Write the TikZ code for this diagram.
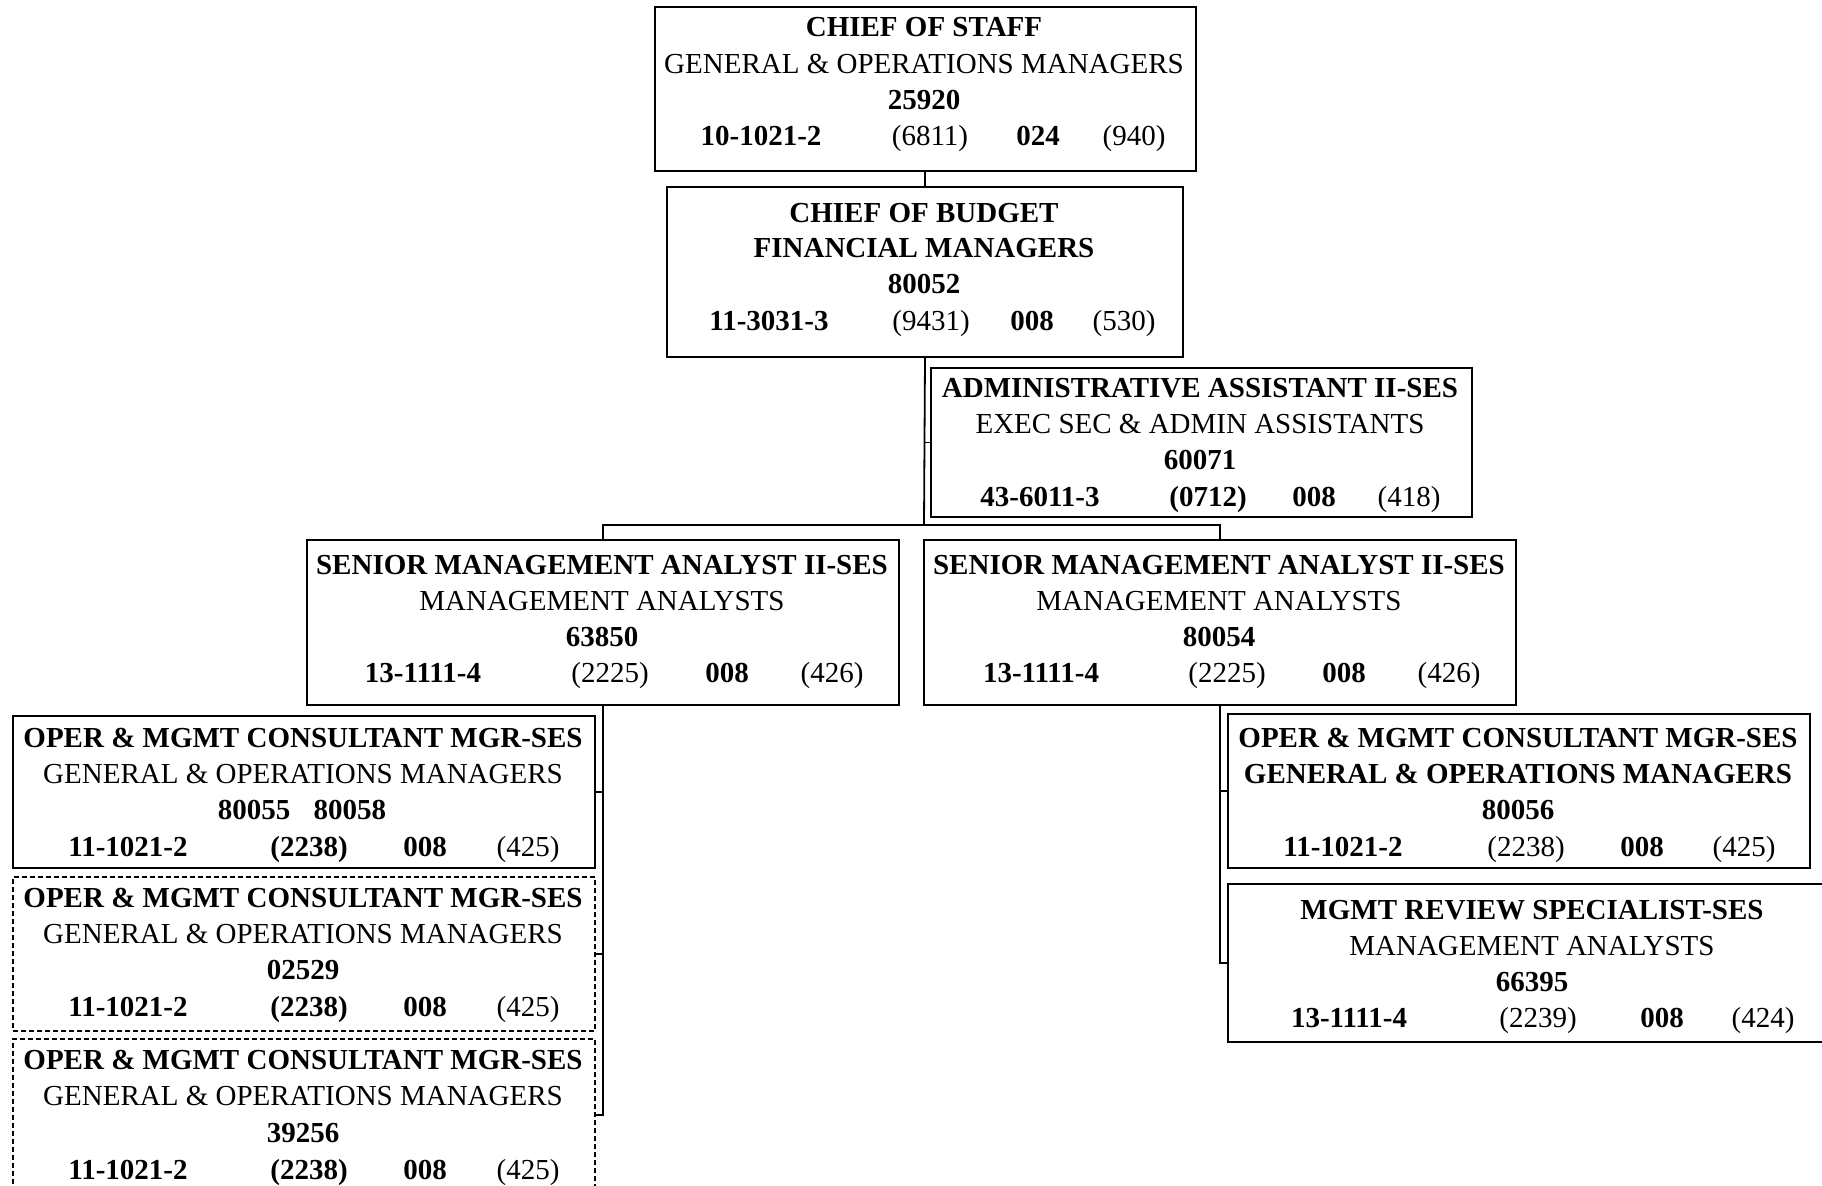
\documentclass[tikz,border=0pt]{standalone}
\usepackage{fontspec}
\setmainfont{Liberation Serif}
\begin{document}
\begin{tikzpicture}[x=0.5pt,y=-0.5pt,
  orgbox/.style={draw=black, line width=1pt, inner sep=0pt, fill=white},
  vacant/.style={draw=black, line width=0.8pt, dash pattern=on 2.5pt off 1.5pt, inner sep=0pt, fill=white},
  link/.style={draw=black, line width=0.9pt},
  lbl/.style={anchor=base, inner sep=0pt, font=\fontsize{14.5}{18}\selectfont}]

% page area
\useasboundingbox (0,0) rectangle (1822,1186);
\fill[white] (0,0) rectangle (1822,1186);

% box: name, left, top, right, bottom, style
\newcommand{\posbox}[6]{%
  \node[#6, anchor=north west, minimum width={(#4-#2)*0.5pt}, minimum height={(#5-#3)*0.5pt}] (#1) at (#2,#3) {};}
% label: name, x, baseline y, text
\newcommand{\lbl}[4]{\node[lbl] (#1) at (#2,#3) {#4};}

% ---------- positions ----------
\posbox{cos}{654}{6}{1195}{170}{orgbox}
\posbox{cob}{666}{186}{1182}{356}{orgbox}
\posbox{adm}{930}{367}{1471}{516}{orgbox}
\posbox{sml}{306}{539}{898}{704}{orgbox}
\posbox{smr}{923}{539}{1515}{704}{orgbox}
\posbox{ol1}{12}{715}{594}{867}{orgbox}
\posbox{ol2}{12}{876}{594}{1030}{vacant}
\posbox{ol3}{12}{1038}{594}{1190}{vacant}
\posbox{or1}{1227}{713}{1809}{867}{orgbox}
\posbox{mrs}{1227}{883}{1840}{1041}{orgbox}

% ---------- reporting lines ----------
\coordinate (bus) at (924,525);
\draw[link] (cos.south) -- (cob.south |- cos.south) -- (cob.north);
\draw[link] (cob.south) -- (bus);
\draw[link] (adm.west) -- (adm.west -| cob.south);
\draw[link] (sml.north) |- (bus) -| (smr.north);
\draw[link] (sml.south) |- (ol3.east);
\draw[link] (ol1.east) -- (ol1.east -| sml.south);
\draw[link] (ol2.east) -- (ol2.east -| sml.south);
\draw[link] (smr.south) |- (mrs.west);
\draw[link] (or1.west) -- (or1.west -| smr.south);

% ---------- Chief of Staff ----------
\lbl{cos-t}{924}{37}{\textbf{CHIEF OF STAFF}}
\lbl{cos-o}{924}{74}{GENERAL \& OPERATIONS MANAGERS}
\lbl{cos-p}{924}{110}{\textbf{25920}}
\lbl{cos-a}{761}{146}{\textbf{10-1021-2}}
\lbl{cos-b}{930}{146}{(6811)}
\lbl{cos-c}{1038}{146}{\textbf{024}}
\lbl{cos-d}{1134}{146}{(940)}

% ---------- Chief of Budget ----------
\lbl{cob-t}{924}{223}{\textbf{CHIEF OF BUDGET}}
\lbl{cob-o}{924}{258}{\textbf{FINANCIAL MANAGERS}}
\lbl{cob-p}{924}{294}{\textbf{80052}}
\lbl{cob-a}{769}{331}{\textbf{11-3031-3}}
\lbl{cob-b}{931}{331}{(9431)}
\lbl{cob-c}{1032}{331}{\textbf{008}}
\lbl{cob-d}{1124}{331}{(530)}

% ---------- Administrative Assistant ----------
\lbl{adm-t}{1200}{398}{\textbf{ADMINISTRATIVE ASSISTANT II-SES}}
\lbl{adm-o}{1200}{434}{EXEC SEC \& ADMIN ASSISTANTS}
\lbl{adm-p}{1200}{470}{\textbf{60071}}
\lbl{adm-a}{1040}{507}{\textbf{43-6011-3}}
\lbl{adm-b}{1208}{507}{\textbf{(0712)}}
\lbl{adm-c}{1314}{507}{\textbf{008}}
\lbl{adm-d}{1409}{507}{(418)}

% ---------- Senior Management Analyst (left) ----------
\lbl{sml-t}{602}{575}{\textbf{SENIOR MANAGEMENT ANALYST II-SES}}
\lbl{sml-o}{602}{611}{MANAGEMENT ANALYSTS}
\lbl{sml-p}{602}{647}{\textbf{63850}}
\lbl{sml-a}{423}{683}{\textbf{13-1111-4}}
\lbl{sml-b}{610}{683}{(2225)}
\lbl{sml-c}{727}{683}{\textbf{008}}
\lbl{sml-d}{832}{683}{(426)}

% ---------- Senior Management Analyst (right) ----------
\lbl{smr-t}{1219}{575}{\textbf{SENIOR MANAGEMENT ANALYST II-SES}}
\lbl{smr-o}{1219}{611}{MANAGEMENT ANALYSTS}
\lbl{smr-p}{1219}{647}{\textbf{80054}}
\lbl{smr-a}{1041}{683}{\textbf{13-1111-4}}
\lbl{smr-b}{1227}{683}{(2225)}
\lbl{smr-c}{1344}{683}{\textbf{008}}
\lbl{smr-d}{1449}{683}{(426)}

% ---------- Oper & Mgmt Consultant (left column) ----------
\lbl{ol1-t}{303}{748}{\textbf{OPER \& MGMT CONSULTANT MGR-SES}}
\lbl{ol1-o}{303}{784}{GENERAL \& OPERATIONS MANAGERS}
\lbl{ol1-p}{302}{820}{\textbf{80055\hspace{0.8em}80058}}
\lbl{ol1-a}{128}{857}{\textbf{11-1021-2}}
\lbl{ol1-b}{309}{857}{\textbf{(2238)}}
\lbl{ol1-c}{425}{857}{\textbf{008}}
\lbl{ol1-d}{528}{857}{(425)}

\lbl{ol2-t}{303}{908}{\textbf{OPER \& MGMT CONSULTANT MGR-SES}}
\lbl{ol2-o}{303}{944}{GENERAL \& OPERATIONS MANAGERS}
\lbl{ol2-p}{303}{980}{\textbf{02529}}
\lbl{ol2-a}{128}{1017}{\textbf{11-1021-2}}
\lbl{ol2-b}{309}{1017}{\textbf{(2238)}}
\lbl{ol2-c}{425}{1017}{\textbf{008}}
\lbl{ol2-d}{528}{1017}{(425)}

\lbl{ol3-t}{303}{1070}{\textbf{OPER \& MGMT CONSULTANT MGR-SES}}
\lbl{ol3-o}{303}{1106}{GENERAL \& OPERATIONS MANAGERS}
\lbl{ol3-p}{303}{1142}{\textbf{39256}}
\lbl{ol3-a}{128}{1179}{\textbf{11-1021-2}}
\lbl{ol3-b}{309}{1179}{\textbf{(2238)}}
\lbl{ol3-c}{425}{1179}{\textbf{008}}
\lbl{ol3-d}{528}{1179}{(425)}

% ---------- Oper & Mgmt Consultant (right column) ----------
\lbl{or1-t}{1518}{748}{\textbf{OPER \& MGMT CONSULTANT MGR-SES}}
\lbl{or1-o}{1518}{784}{\textbf{GENERAL \& OPERATIONS MANAGERS}}
\lbl{or1-p}{1518}{820}{\textbf{80056}}
\lbl{or1-a}{1343}{857}{\textbf{11-1021-2}}
\lbl{or1-b}{1526}{857}{(2238)}
\lbl{or1-c}{1642}{857}{\textbf{008}}
\lbl{or1-d}{1744}{857}{(425)}

% ---------- Mgmt Review Specialist ----------
\lbl{mrs-t}{1532}{920}{\textbf{MGMT REVIEW SPECIALIST-SES}}
\lbl{mrs-o}{1532}{956}{MANAGEMENT ANALYSTS}
\lbl{mrs-p}{1532}{992}{\textbf{66395}}
\lbl{mrs-a}{1349}{1028}{\textbf{13-1111-4}}
\lbl{mrs-b}{1538}{1028}{(2239)}
\lbl{mrs-c}{1662}{1028}{\textbf{008}}
\lbl{mrs-d}{1763}{1028}{(424)}

\end{tikzpicture}
\end{document}
